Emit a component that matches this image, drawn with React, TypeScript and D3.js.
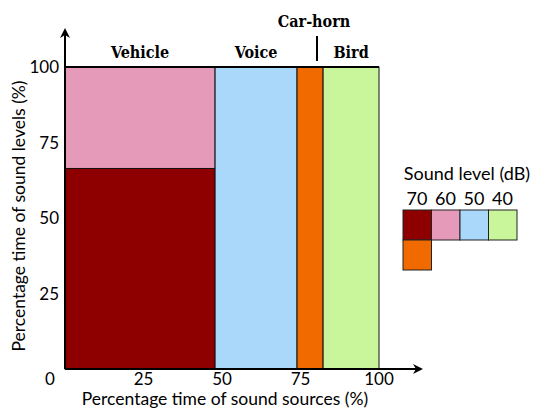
import * as d3 from "d3";

// sources along x, share of time (%)
const sources = ["Vehicle", "Voice", "Car-horn", "Bird"];
const sourceShare = [47.8, 26.1, 8.3, 17.8];

// sound levels and their colours
const levels = ["70", "60", "50", "40"];
const levelColors = ["#8e0000", "#e59ab9", "#a9d8fb", "#c9f59b"];
const hornColor = "#f06a00";

// share of each level within each source (%), bottom to top
const vehicleMix = [66.4, 33.6, 0, 0];
const voiceMix = [0, 0, 100, 0];
const hornMix = [100, 0, 0, 0];
const birdMix = [0, 0, 0, 100];
const mixes = [vehicleMix, voiceMix, hornMix, birdMix];

const xTicks = [25, 50, 75, 100];
const yTicks = [25, 50, 75, 100];

const W = 536;
const H = 408;
const sans = "Lato, 'Open Sans', sans-serif";
const heading = "'DejaVu Serif Condensed', 'DejaVu Serif', serif";

export default function App() {
  const x = d3.scaleLinear().domain([0, 100]).range([65, 379]);
  const y = d3.scaleLinear().domain([0, 100]).range([369, 67]);

  const starts = d3.cumsum([0, ...sourceShare]);

  const cells: { x0: number; x1: number; y0: number; y1: number; fill: string }[] = [];
  mixes.forEach((mix, i) => {
    let acc = 0;
    mix.forEach((v, j) => {
      if (v <= 0) return;
      const fill = sources[i] === "Car-horn" ? hornColor : levelColors[j];
      cells.push({ x0: starts[i], x1: starts[i + 1], y0: acc, y1: acc + v, fill });
      acc += v;
    });
  });

  const labelY: Record<string, number> = { "Car-horn": 27 };

  return (
    <svg
      width={W}
      height={H}
      style={{ position: "absolute", left: 0, top: 0, background: "#fff" }}
    >
      <defs>
        <marker id="arr" viewBox="0 0 10 10" refX="8" refY="5" markerWidth="5" markerHeight="5" orient="auto">
          <path d="M0,0 L10,5 L0,10 L3,5 Z" fill="#000" />
        </marker>
      </defs>

      {cells.map((c, i) => (
        <rect
          key={i}
          x={x(c.x0)}
          y={y(c.y1)}
          width={x(c.x1) - x(c.x0)}
          height={y(c.y0) - y(c.y1)}
          fill={c.fill}
          stroke="#111"
          strokeWidth={1}
        />
      ))}
      <line x1={x(0)} x2={x(100)} y1={y(100)} y2={y(100)} stroke="#000" strokeWidth={2} />

      {/* axes */}
      <line x1={x(0)} x2={x(0)} y1={y(0)} y2={30} stroke="#000" strokeWidth={2} markerEnd="url(#arr)" />
      <line x1={x(0)} x2={421} y1={y(0)} y2={y(0)} stroke="#000" strokeWidth={2} markerEnd="url(#arr)" />

      {/* tick labels */}
      <text x={50} y={385} fontFamily={sans} fontSize={17} textAnchor="middle">0</text>
      {xTicks.map((t) => (
        <text key={t} x={x(t)} y={385} fontFamily={sans} fontSize={17} textAnchor="middle">
          {t}
        </text>
      ))}
      {yTicks.map((t) => (
        <text key={t} x={59} y={y(t) + 6} fontFamily={sans} fontSize={17} textAnchor="end">
          {t}
        </text>
      ))}

      {/* axis titles */}
      <text x={225} y={405} fontFamily={sans} fontSize={17.5} textAnchor="middle">
        Percentage time of sound sources (%)
      </text>
      <text
        transform={`translate(25,${y(50) - 2}) rotate(-90)`}
        fontFamily={sans}
        fontSize={17.5}
        textAnchor="middle"
      >
        Percentage time of sound levels (%)
      </text>

      {/* source labels */}
      {sources.map((s, i) => (
        <text
          key={s}
          x={sources[i] === "Car-horn" ? 314 : x((starts[i] + starts[i + 1]) / 2)}
          y={labelY[s] ?? 58}
          fontFamily={heading}
          fontWeight="bold"
          fontSize={16}
          textAnchor="middle"
        >
          {s}
        </text>
      ))}
      <line x1={317} x2={317} y1={36} y2={61} stroke="#000" strokeWidth={2} />

      {/* legend */}
      <text x={467} y={180} fontFamily={sans} fontSize={18} textAnchor="middle">
        Sound level (dB)
      </text>
      {levels.map((l, i) => (
        <g key={l}>
          <text x={417 + i * 28.5} y={205} fontFamily={sans} fontSize={18} textAnchor="middle">
            {l}
          </text>
          <rect x={403 + i * 28.5} y={210} width={28.5} height={30} fill={levelColors[i]} stroke="#222" strokeWidth={1} />
        </g>
      ))}
      <rect x={403} y={240} width={28.5} height={30} fill={hornColor} stroke="#222" strokeWidth={1} />
    </svg>
  );
}
